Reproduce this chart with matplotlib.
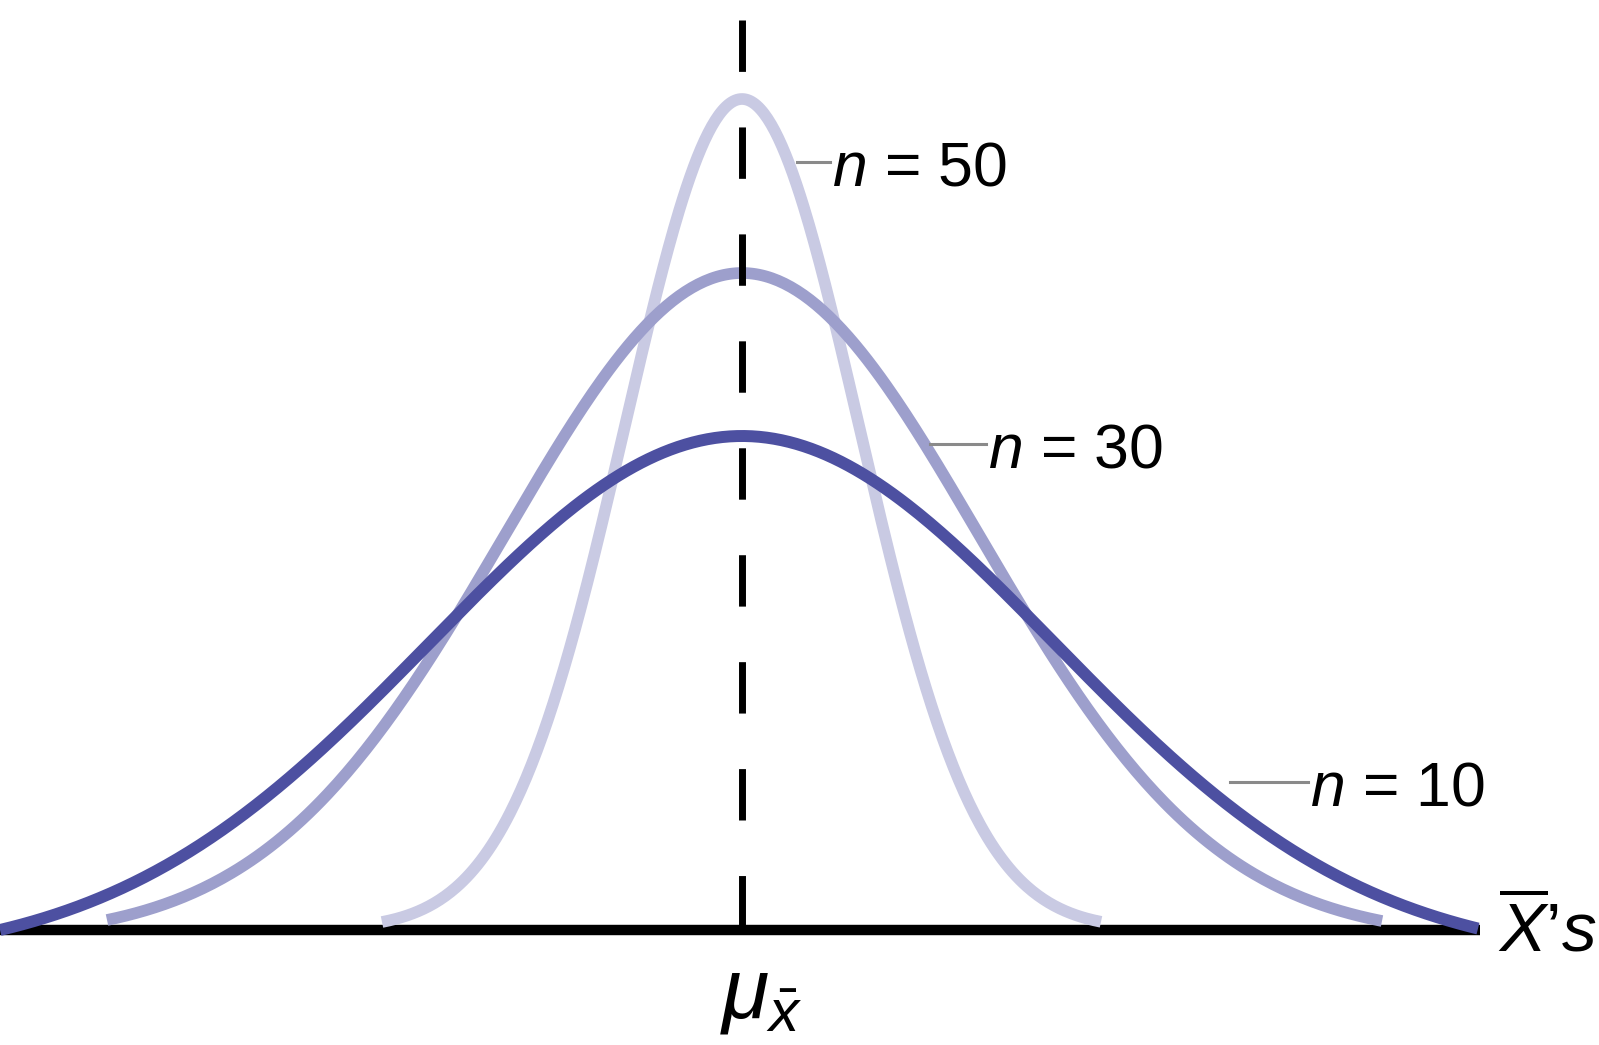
import numpy as np
import matplotlib
matplotlib.use("Agg")
from matplotlib import pyplot as plt

plt.rcParams["font.family"] = ["Liberation Sans", "DejaVu Sans"]
plt.rcParams["mathtext.fontset"] = "custom"
plt.rcParams["mathtext.rm"] = "Liberation Sans"
plt.rcParams["mathtext.it"] = "Liberation Sans:italic"
plt.rcParams["lines.scale_dashes"] = False

# sampling distributions of the mean
# (x in units relative to the mean, y above the baseline)
sample_sizes = [10, 30, 50]
peak_heights = [4.94, 6.57, 8.31]
spreads = [3.12, 2.37, 1.17]
left_ends = [-7.42, -6.35, -3.60]
right_ends = [7.36, 6.40, 3.59]
end_heights = [0.0, 0.10, 0.08]
curve_colors = ["#4d50a1", "#9d9fcc", "#c9cae3"]
curve_widths = [8.6, 8.4, 8.4]

# label positions (x, y) of the "n = .." texts and their leader lines
label_x = [5.68, 2.46, 0.90]
label_y = [1.48, 4.86, 7.68]
leader_start = [4.88, 1.88, 0.55]

baseline_range = [-7.42, 7.38]
mean_line_top = 9.10


fig = plt.figure(figsize=(15.99, 10.45), dpi=100)
ax = fig.add_axes([0, 0, 1, 1])
ax.set_xlim(-7.42, 8.57)
ax.set_ylim(-1.15, 9.30)
ax.axis("off")

# baseline
ax.plot(baseline_range, [0, 0], color="black", lw=7.5, solid_capstyle="butt", zorder=1)

# the three curves, lightest first so the darker ones sit on top
for i in reversed(range(len(sample_sizes))):
    x = np.linspace(left_ends[i], right_ends[i], 400)
    g = np.exp(-0.5 * (x / spreads[i]) ** 2)
    g_end = np.exp(-0.5 * (left_ends[i] / spreads[i]) ** 2)
    y = end_heights[i] + (peak_heights[i] - end_heights[i]) * (g - g_end) / (1 - g_end)
    ax.plot(x, y, color=curve_colors[i], lw=curve_widths[i],
            solid_capstyle="butt", zorder=2 + (2 - i))

# dashed line at the mean
ax.plot([0, 0], [mean_line_top, 0], color="black", lw=5,
        dashes=(37, 40), solid_capstyle="butt", zorder=6)

# labels with leader lines
for i, n in enumerate(sample_sizes):
    ax.plot([leader_start[i], label_x[i] - 0.02], [label_y[i], label_y[i]],
            color="#8a8a8a", lw=2.2, zorder=5)
    ax.text(label_x[i], label_y[i], rf"$n$ = {n}", fontsize=45,
            ha="left", va="center_baseline", zorder=7)

ax.text(7.56, -0.22, r"$\overline{X}\mathit{’s}$", fontsize=50,
        ha="left", va="baseline")
ax.text(-0.22, -0.88, r"$\mu_{\bar{x}}$", fontsize=62,
        ha="left", va="baseline")

fig.savefig("out.png", dpi=100)
